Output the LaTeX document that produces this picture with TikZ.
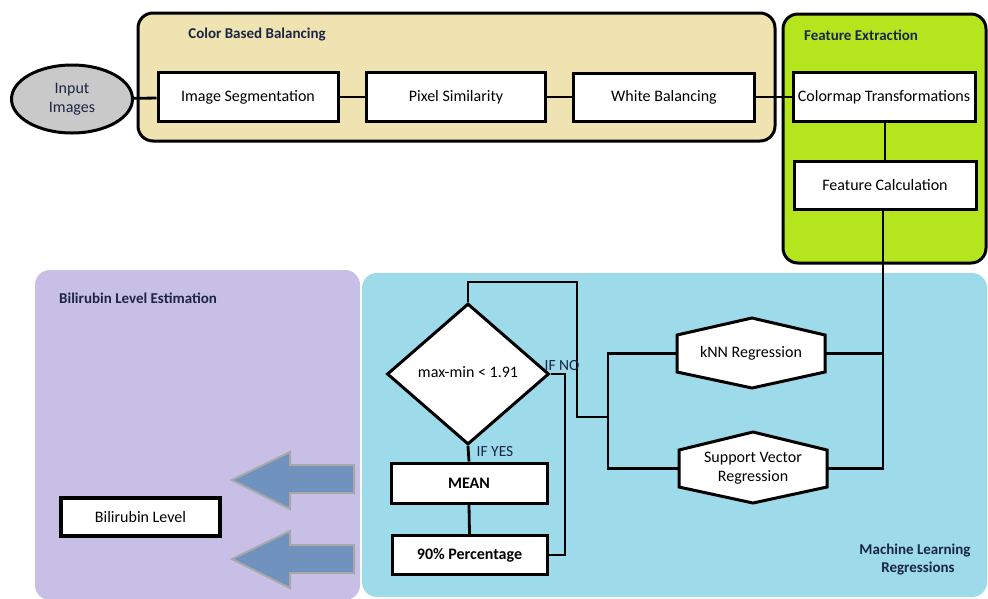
\documentclass[tikz,border=0pt]{standalone}
\usepackage{fontspec}
\setmainfont{Carlito}
\usetikzlibrary{shapes.geometric}
\definecolor{beige}{HTML}{EFE3B1}
\definecolor{lime}{HTML}{B5E61D}
\definecolor{skyb}{HTML}{9DDAEA}
\definecolor{lilac}{HTML}{C7BFE5}
\definecolor{navy}{HTML}{1B2545}
\definecolor{arrowfill}{HTML}{7092BE}
\definecolor{arrowedge}{HTML}{A8A8A8}
\begin{document}
\begin{tikzpicture}[x=1pt,y=-1pt,
  panel/.style={rounded corners=15pt},
  boxed/.style={draw=black,line width=3pt,fill=white,inner sep=0pt,font=\fontsize{16}{19}\selectfont},
  title/.style={font=\bfseries\fontsize{15}{18}\selectfont,text=navy,inner sep=0pt},
  lbl/.style={font=\fontsize{15.5}{18}\selectfont,text=navy,inner sep=0pt},
  conn/.style={line width=2.8pt,line join=miter},
  hex/.style={draw=black,line width=3pt},
  bigarrow/.style={fill=arrowfill,draw=arrowedge,line width=2pt}]
\useasboundingbox (0,0) rectangle (988,598);
% panels
\fill[lilac,panel] (35,270) rectangle (360,600);
\fill[skyb,panel] (362,273) rectangle (987,597);
\draw[fill=beige,line width=3pt,panel] (138,13) rectangle (775,141);
\draw[fill=lime,line width=3pt,panel] (783,14) rectangle (986,263);
% titles
\node[title] (tcbb) at (257,35) {Color Based Balancing};
\node[title] (tfe) at (861,35) {Feature Extraction};
\node[title,anchor=west] (tble) at (59,298) {Bilirubin Level Estimation};
\node[title,align=center] (tmlr) at (915,559) {Machine Learning\\\hspace*{6pt}Regressions};
% top row
\node[ellipse,draw=black,line width=3pt,fill=black!21,minimum width=121pt,minimum height=68pt,inner sep=0pt,align=center,font=\fontsize{16}{19}\selectfont,text=navy] (inp) at (72,99) {Input\\Images};
\node[boxed,minimum width=180pt,minimum height=49pt] (seg) at (248,97) {Image Segmentation};
\node[boxed,minimum width=179pt,minimum height=49pt] (pix) at (456,97) {Pixel Similarity};
\node[boxed,minimum width=181pt,minimum height=48pt] (wb) at (664,97) {White Balancing};
\node[boxed,minimum width=182pt,minimum height=49pt] (cmt) at (884,97) {Colormap Transformations};
\node[boxed,minimum width=182pt,minimum height=48pt] (fc) at (885,185) {Feature Calculation};
\draw[conn] (inp) -- (seg);
\draw[conn] (seg) -- (pix);
\draw[conn] (pix) -- (wb);
\draw[conn] (wb) -- (cmt);
\draw[conn] (cmt.south -| fc.south) -- (fc.north);
% regressions
\fill[white] (677,335) -- (752,318) -- (825,335) -- (825,372) -- (752,388) -- (677,372) -- cycle;
\fill[white] (679,450) -- (753,432) -- (827,450) -- (827,487) -- (753,503) -- (679,487) -- cycle;
\draw[hex] (677,335) -- (752,318) -- (825,335) -- (825,372) -- (752,388) -- (677,372) -- cycle;
\draw[hex] (679,450) -- (753,432) -- (827,450) -- (827,487) -- (753,503) -- (679,487) -- cycle;
\node[inner sep=0pt,minimum width=148pt,minimum height=37pt,font=\fontsize{16}{19}\selectfont] (knn) at (751,353.5) {kNN Regression};
\node[inner sep=0pt,minimum width=148pt,minimum height=37pt,align=center,font=\fontsize{16}{19}\selectfont] (svr) at (753,468.5) {Support Vector\\Regression};
\coordinate (rj1) at (883,353.5);
\coordinate (rj2) at (883,468.5);
\draw[conn] (fc.south -| rj1) -- (rj2) -- (svr.east);
\draw[conn] (rj1) -- (knn.east);
\coordinate (lj1) at (608,353.5);
\coordinate (lj2) at (608,468.5);
\draw[conn] (knn.west) -- (lj1) -- (lj2) -- (svr.west);
% decision
\node[diamond,draw=black,line width=3pt,fill=white,minimum width=162pt,minimum height=141pt,inner sep=0pt,font=\fontsize{16}{19}\selectfont] (dec) at (468,374) {\raisebox{4pt}{max-min < 1.91}};
\node[boxed,font=\bfseries\fontsize{16}{19}\selectfont,minimum width=156pt,minimum height=40pt] (mean) at (469,483) {MEAN};
\node[boxed,font=\bfseries\fontsize{16}{19}\selectfont,minimum width=155pt,minimum height=39pt] (perc) at (469.5,555) {90\% Percentage};
\coordinate (loopa) at (468,282);
\coordinate (loopb) at (577,282);
\coordinate (loopc) at (577,417);
\draw[conn] (dec.north) -- (loopa) -- (loopb) -- (loopc) -- (loopc -| lj1);
\coordinate (noa) at (565,374);
\draw[conn] (dec.east) -- (noa) -- (noa |- perc.east) -- (perc.east);
\draw[conn] (dec.south) -- (mean.north);
\draw[conn] (mean.south) -- (perc.north);
\node[lbl] (ifno) at (562,366) {IF NO};
\node[lbl] (ifyes) at (495,452) {IF YES};
% output
\node[draw=black,line width=3.5pt,fill=white,inner sep=0pt,minimum width=159pt,minimum height=38pt,font=\fontsize{16}{19}\selectfont] (bil) at (140.5,517) {Bilirubin Level};
\draw[bigarrow] (354,465) -- (290,465) -- (290,452) -- (232,480) -- (290,509) -- (290,493) -- (354,493) -- cycle;
\draw[bigarrow] (354,545) -- (290,545) -- (290,531) -- (232,559) -- (290,588) -- (290,573) -- (354,573) -- cycle;
\end{tikzpicture}
\end{document}
